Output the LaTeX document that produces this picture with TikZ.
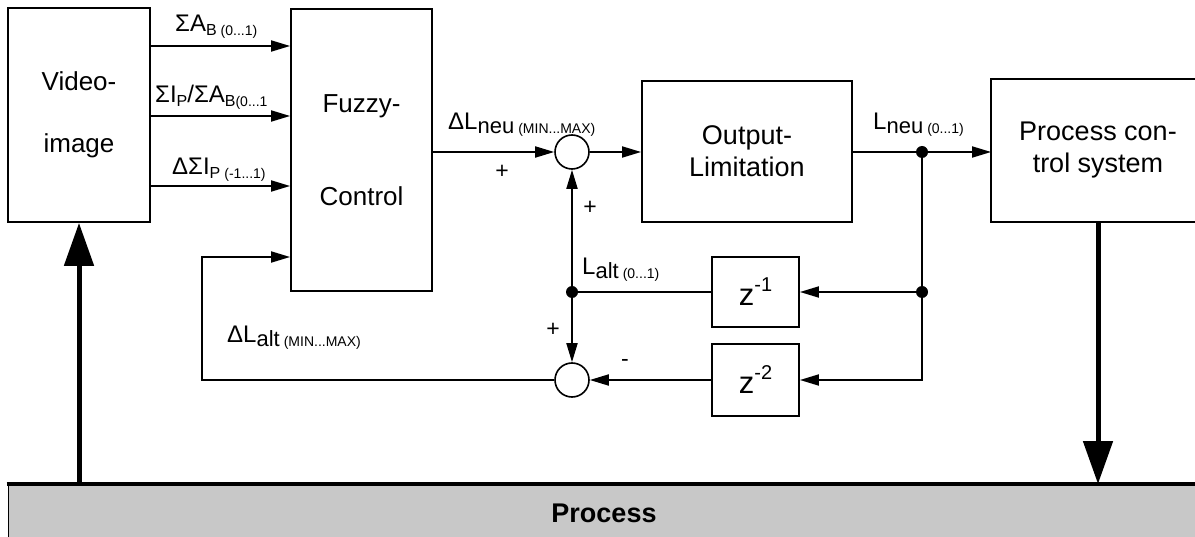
\documentclass[tikz,border=0pt]{standalone}
\usepackage{fontspec}
\setmainfont{Liberation Sans}
\usepackage{tikz}
\usetikzlibrary{arrows.meta}
\definecolor{procgray}{RGB}{200,200,200}
\newcommand{\ssub}[2]{\raisebox{-4pt}{\fontsize{#1}{#1}\selectfont #2}}
\newcommand{\srange}[1]{\raisebox{-4pt}{\fontsize{14}{14}\selectfont #1}}
\newcommand{\zpow}[1]{z\raisebox{14pt}{\fontsize{20}{20}\selectfont #1}}

\begin{document}
\begin{tikzpicture}[x=1pt, y=-1pt,
  blockbox/.style={rectangle, draw, line width=1.8pt, inner sep=0pt, align=center, font=\fontsize{27}{32}\selectfont},
  sumnode/.style={circle, draw, line width=1.6pt, minimum size=34pt, inner sep=0pt},
  dotnode/.style={circle, fill, minimum size=12pt, inner sep=0pt},
  wire/.style={line width=1.8pt},
  sig/.style={line width=1.8pt, -{Triangle[length=19pt, width=11pt]}},
  bigarrow/.style={line width=5pt, -{Triangle[length=43pt, width=29pt]}},
  lbl/.style={anchor=base west, inner sep=0pt, font=\fontsize{24}{24}\selectfont},
  sgn/.style={inner sep=0pt, font=\fontsize{23}{23}\selectfont}]

\useasboundingbox (0,0) rectangle (1195,537);

\fill[procgray] (8,484) rectangle (1195,537);
\draw[line width=1pt] (8,537) -- (8,484);
\draw[line width=3.5pt] (6.5,484) -- (1195,484);
\node[font=\bfseries\fontsize{27}{27}\selectfont] (proc) at (604,513) {Process};
\coordinate (barL) at (8,484); \coordinate (barR) at (1195,484);

\node[blockbox, minimum width=142pt, minimum height=214pt, font=\fontsize{26}{62}\selectfont] (video) at (79,115) {Video-\\image};
\node[blockbox, minimum width=141pt, minimum height=282pt, font=\fontsize{26}{93}\selectfont] (fuzzy) at (361.5,150) {Fuzzy-\\Control};
\node[blockbox, minimum width=210pt, minimum height=141pt] (outlim) at (747,151.5) {Output-\\Limitation};
\node[blockbox, draw=none, minimum width=212pt, minimum height=141pt] (pcs) at (1098,150.5) {Process con-\\trol system};
\draw[wire] (pcs.north west -| barR) -- (pcs.north west) -- (pcs.south west) -- (pcs.south west -| barR);
\node[blockbox, minimum width=87pt, minimum height=70pt, font=\fontsize{31}{31}\selectfont] (zone) at (755.5,292) {\zpow{-1}};
\node[blockbox, minimum width=87pt, minimum height=72pt, font=\fontsize{31}{31}\selectfont] (ztwo) at (755.5,380) {\zpow{-2}};

\node[sumnode] (sumA) at (572,152) {}; \node[sumnode] (sumB) at (572,380) {};
\node[dotnode] (split) at (922,152) {}; \node[dotnode] (splitz) at (922,292) {};
\node[dotnode] (lalt) at (572,292) {};
\coordinate (fbk) at (202,380);

\foreach \y in {46,116,186} \draw[sig] (video.east |- 0,\y) -- (fuzzy.west |- 0,\y);
\draw[sig] (fuzzy.east |- sumA) -- (sumA);
\draw[sig] (sumA) -- (outlim.west |- sumA);
\draw[wire] (outlim.east |- split) -- (split);
\draw[sig] (split) -- (pcs.west |- split);
\draw[wire] (split) -- (splitz);
\draw[sig] (splitz) -- (zone.east |- splitz);
\draw[sig] (splitz) |- (ztwo.east);
\draw[wire] (zone.west |- lalt) -- (lalt);
\draw[sig] (lalt) -- (sumA);
\draw[sig] (lalt) -- (sumB);
\draw[sig] (ztwo) -- (sumB);
\draw[sig] (sumB) -- (fbk) |- (fuzzy.west |- 0,257);
\draw[bigarrow] (video.south |- barL) -- (video.south);
\draw[bigarrow] (pcs.south) -- (pcs.south |- barR);

\node[lbl] (lsa) at (175,32) {ΣA\ssub{16}{B}\,\srange{(0...1)}};
\node[lbl] (lsp) at (155,103) {ΣI\ssub{16}{P}/ΣA\ssub{16}{B}\srange{(0...1}};
\node[lbl] (ldsp) at (172,175) {ΔΣI\ssub{16}{P}\,\srange{(-1...1)}};
\node[lbl] (ldln) at (448,130) {ΔL\ssub{22}{neu}\,\srange{(MIN...MAX)}};
\node[lbl] (lla) at (582,275) {L\ssub{22}{alt}\,\srange{(0...1)}};
\node[lbl] (ldla) at (227,343) {ΔL\ssub{22}{alt}\,\srange{(MIN...MAX)}};
\node[lbl] (lln) at (873,130) {L\ssub{22}{neu}\,\srange{(0...1)}};
\node[sgn] (pa) at (502,172) {+}; \node[sgn] (pb) at (590,208) {+};
\node[sgn] (pc) at (553,330) {+}; \node[sgn] (mc) at (625,363) {-};
\end{tikzpicture}
\end{document}
